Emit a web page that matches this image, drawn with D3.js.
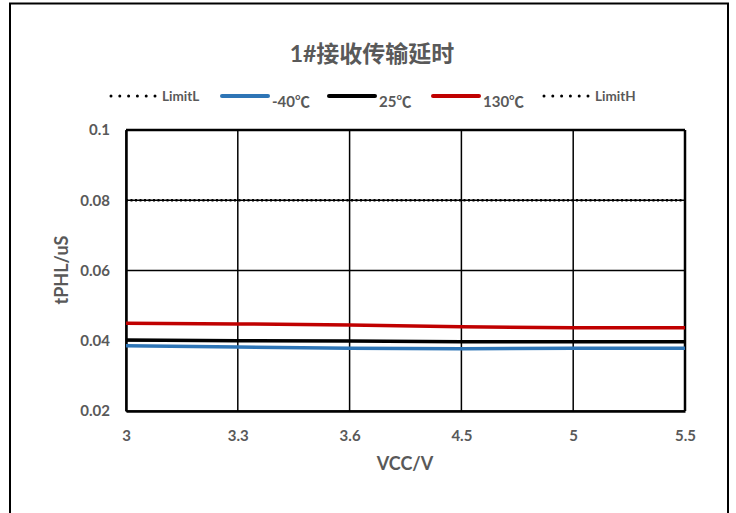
<!DOCTYPE html>
<html>
<head>
<meta charset="utf-8">
<script src="https://cdn.jsdelivr.net/npm/d3@7"></script>
<style>
  body { margin: 0; background: #fff; }
  text { font-family: Lato, "Noto Sans CJK SC", sans-serif; fill: #595959; font-weight: bold; }
</style>
</head>
<body>
<svg id="chart" width="736" height="513"></svg>
<script>
// x categories (VCC, V) and series values (tPHL, uS)
var vcc = ["3", "3.3", "3.6", "4.5", "5", "5.5"];
var yTicks = [0.02, 0.04, 0.06, 0.08, 0.1];
var limitL = [0, 0, 0, 0, 0, 0];
var tMinus40 = [0.0386, 0.0382, 0.0379, 0.0377, 0.0379, 0.0379];
var t25 = [0.0402, 0.0400, 0.0399, 0.0397, 0.0397, 0.0397];
var t130 = [0.0450, 0.0448, 0.0445, 0.0440, 0.0437, 0.0437];
var limitH = [0.08, 0.08, 0.08, 0.08, 0.08, 0.08];

var series = [
  { name: "LimitL", values: limitL, color: "#000", width: 2.5, dots: true },
  { name: "-40℃", values: tMinus40, color: "#2E75B6", width: 3.5, big: true },
  { name: "25℃", values: t25, color: "#000", width: 3.5, big: true },
  { name: "130℃", values: t130, color: "#C00000", width: 3.5, big: true },
  { name: "LimitH", values: limitH, color: "#000", width: 2.5, dots: true }
];

var svg = d3.select("#chart"),
  margin = { top: 130, right: 51, bottom: 102, left: 126 },
  width = +svg.attr("width") - margin.left - margin.right,
  height = +svg.attr("height") - margin.top - margin.bottom;

// outer frame, bottom edge runs off the picture
svg.append("rect")
  .attr("x", 10).attr("y", 3.5)
  .attr("width", 718).attr("height", 530)
  .attr("fill", "none").attr("stroke", "#000").attr("stroke-width", 2);

var x = d3.scalePoint().domain(vcc).range([0, width]);
var y = d3.scaleLinear().domain([0.02, 0.1]).range([height, 0]);

var g = svg.append("g")
  .attr("transform", "translate(" + margin.left + "," + margin.top + ")");

g.append("clipPath").attr("id", "plot-clip")
  .append("rect").attr("width", width).attr("height", height);

// grid
g.append("g")
  .selectAll("line")
  .data(yTicks)
  .enter().append("line")
  .attr("x1", 0).attr("x2", width)
  .attr("y1", function (d) { return y(d); })
  .attr("y2", function (d) { return y(d); })
  .attr("stroke", "#000").attr("stroke-width", 1.3);

g.append("g")
  .selectAll("line")
  .data(vcc)
  .enter().append("line")
  .attr("x1", function (d) { return x(d); })
  .attr("x2", function (d) { return x(d); })
  .attr("y1", 0).attr("y2", height)
  .attr("stroke", "#000").attr("stroke-width", 1.5);

// axes
var xAxis = g.append("g")
  .attr("transform", "translate(0," + height + ")")
  .call(d3.axisBottom(x).tickSize(0).tickPadding(19));
xAxis.select(".domain").attr("stroke", "#000").attr("stroke-width", 2.5);
xAxis.selectAll("text").style("font-size", "15px");

var yAxis = g.append("g")
  .call(d3.axisLeft(y).tickValues(yTicks).tickSize(0).tickPadding(16)
    .tickFormat(function (d) { return d3.format("")(+d.toFixed(2)); }));
yAxis.select(".domain").attr("stroke", "#000").attr("stroke-width", 2.5);
yAxis.selectAll("text").style("font-size", "15px");

g.append("line")
  .attr("x1", width).attr("x2", width).attr("y1", 0).attr("y2", height)
  .attr("stroke", "#000").attr("stroke-width", 2.5);
g.append("line")
  .attr("x1", 0).attr("x2", width).attr("y1", 0).attr("y2", 0)
  .attr("stroke", "#000").attr("stroke-width", 2.5);

// series lines
var line = d3.line()
  .x(function (d, i) { return x(vcc[i]); })
  .y(function (d) { return y(d); });

g.append("g").attr("clip-path", "url(#plot-clip)")
  .selectAll("path")
  .data(series)
  .enter().append("path")
  .attr("d", function (d) { return line(d.values); })
  .attr("fill", "none")
  .attr("stroke", function (d) { return d.color; })
  .attr("stroke-width", function (d) { return d.width; })
  .attr("stroke-dasharray", function (d) { return d.dots ? "2,2.5" : null; });

// axis titles
svg.append("text")
  .attr("x", 405).attr("y", 470)
  .attr("text-anchor", "middle")
  .style("font-size", "18px")
  .text("VCC/V");

svg.append("text")
  .attr("transform", "translate(68,270) rotate(-90)")
  .attr("text-anchor", "middle")
  .style("font-size", "18px")
  .text("tPHL/uS");

// title
svg.append("text")
  .attr("x", 372).attr("y", 62)
  .attr("text-anchor", "middle")
  .style("font-size", "23px")
  .text("1#接收传输延时");

// legend
var legendX = [111, 222, 329, 433, 544];
var legend = svg.append("g")
  .selectAll("g")
  .data(series)
  .enter().append("g")
  .attr("transform", function (d, i) { return "translate(" + legendX[i] + ",96)"; });

legend.append("line")
  .attr("x1", 0).attr("x2", 46)
  .attr("stroke", function (d) { return d.color; })
  .attr("stroke-width", function (d) { return d.dots ? 3 : 4; })
  .attr("stroke-linecap", "round")
  .attr("stroke-dasharray", function (d) { return d.dots ? "0,8.8" : null; });

legend.append("text")
  .attr("x", function (d) { return d.big ? 50 : 51; })
  .attr("y", function (d) { return d.big ? 11 : 5; })
  .style("font-size", function (d) { return d.big ? "15px" : "13.5px"; })
  .text(function (d) { return d.name; });
</script>
</body>
</html>
